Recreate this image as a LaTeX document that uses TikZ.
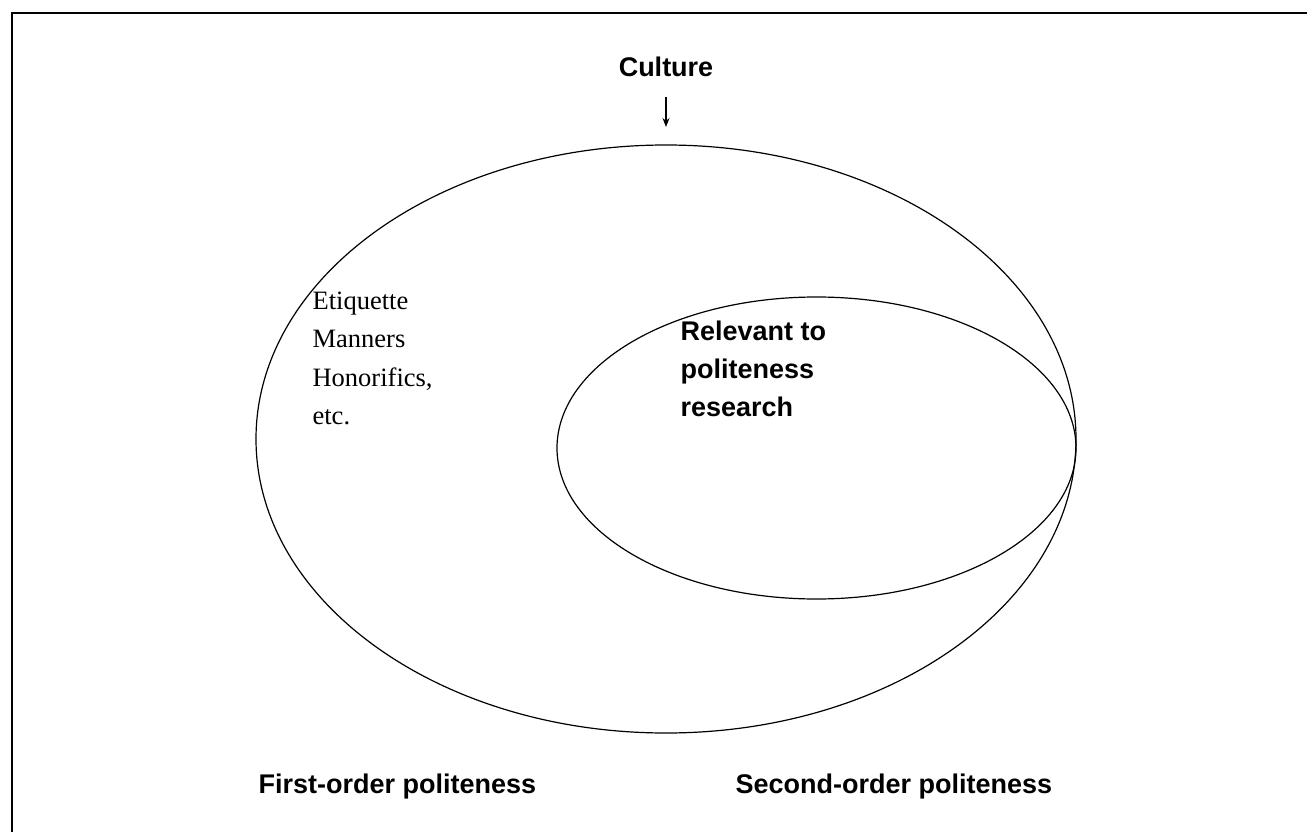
\documentclass[tikz,border=0pt]{standalone}
\usepackage{fontspec}
\setmainfont{Liberation Serif}
\setsansfont{Liberation Sans}
\usetikzlibrary{arrows.meta,shapes.geometric}
\begin{document}
\begin{tikzpicture}[x=1pt,y=-1pt,line width=1.2pt,
  lab/.style={font=\sffamily\bfseries\fontsize{27}{38}\selectfont, inner sep=0pt},
  ser/.style={font=\fontsize{26.5}{38}\selectfont, inner sep=0pt},
  oval/.style={draw, ellipse, inner sep=0pt}]
\useasboundingbox (0,0) rectangle (1307,832);
% frame (top and left sides)
\draw[line width=1.5pt] (1307,13) -- (12,13) -- (12,832);
% ellipses
\node[oval, minimum width=820pt, minimum height=588pt] (outer) at (666,439) {};
\node[oval, minimum width=519pt, minimum height=302pt] (inner) at (816.5,448) {};
% culture
\node[lab, anchor=base] (culture) at (666,77) {Culture};
\coordinate (tip) at (666,127);
\draw[line width=1.2pt,-{Stealth[length=9pt,width=7pt]}] ([yshift=-19pt]culture.south) -- (tip);
% left texts
\node[ser, anchor=base west] (et1) at (312,309) {Etiquette};
\node[ser, anchor=base west] (et2) at (312,347) {Manners};
\node[ser, anchor=base west] (et3) at (312,386) {Honorifics,};
\node[ser, anchor=base west] (et4) at (312,424) {etc.};
% inner texts
\node[lab, anchor=base west] (r1) at (680,340) {Relevant to};
\node[lab, anchor=base west] (r2) at (680,378) {politeness};
\node[lab, anchor=base west] (r3) at (680,416) {research};
% bottom labels
\node[lab, anchor=base west] (first) at (258,793) {First-order politeness};
\node[lab, anchor=base west] (second) at (735,793) {Second-order politeness};
\end{tikzpicture}
\end{document}
